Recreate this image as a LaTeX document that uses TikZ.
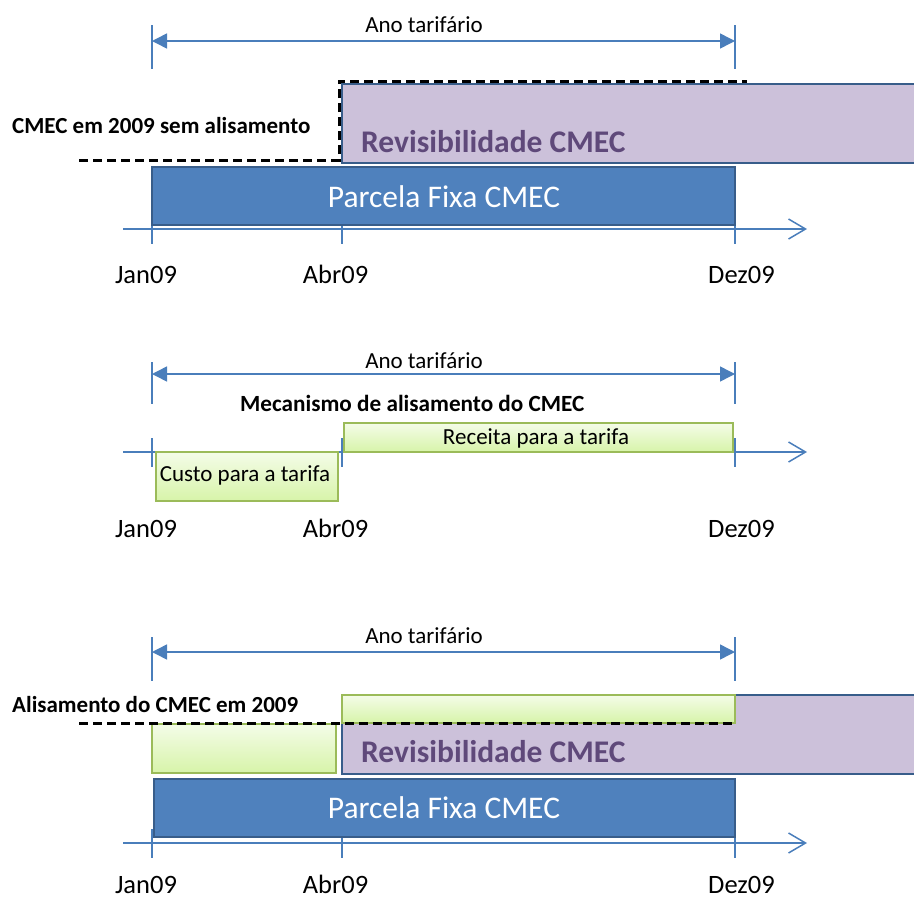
\documentclass[tikz,border=0pt]{standalone}
\usepackage{fontspec}
\setmainfont{Carlito}
\usetikzlibrary{arrows.meta}
\definecolor{axblue}{HTML}{4A7EBB}
\definecolor{pfill}{HTML}{4F81BD}
\definecolor{pborder}{HTML}{385D8A}
\definecolor{lav}{HTML}{CCC1DA}
\definecolor{lavtext}{HTML}{5F497A}
\definecolor{gborder}{HTML}{9BBB59}
\definecolor{gtop}{HTML}{F4FCE8}
\definecolor{gbot}{HTML}{D7F4A9}
\newcommand{\fsz}[1]{\fontsize{#1}{#1}\selectfont}
\tikzset{
  box/.style={inner sep=0pt, outer sep=0pt, anchor=north west},
  fixbox/.style={box, draw=pborder, line width=1.5pt, fill=pfill},
  revbox/.style={box, draw=pborder, line width=1.3pt, fill=lav},
  greenbox/.style={box, draw=gborder, line width=1.5pt, top color=gtop, bottom color=gbot},
  axisline/.style={axblue, line width=1.5pt, -{Straight Barb[length=17pt,width=20pt,line width=1.5pt]}},
  tick/.style={axblue, line width=1.5pt},
  span/.style={axblue, line width=1.5pt, {Triangle[length=15pt,width=15pt]}-{Triangle[length=15pt,width=15pt]}},
  dashline/.style={black, line width=3pt, dash pattern=on 9pt off 5pt},
  txt/.style={inner sep=0pt, anchor=base, text=black},
  txtl/.style={inner sep=0pt, anchor=base west, text=black},
  small/.style={font=\fsz{23}},
  datelbl/.style={txt, font=\fsz{26.5}},
  boldlbl/.style={txtl, font=\bfseries\fsz{23}},
  fixtxt/.style={txt, text=white, font=\fsz{31.5}},
  revtxt/.style={txtl, text=lavtext, font=\bfseries\fsz{31.5}},
}
\begin{document}
\begin{tikzpicture}[x=1pt,y=-1pt]
\useasboundingbox (0,0) rectangle (914,900);

% ================= Panel 1 =================
\coordinate (a1s) at (123,229); \coordinate (a1e) at (807,229);
\foreach \n/\x in {j/152,a/342,d/735}{
  \coordinate (t1\n a) at (\x,214); \coordinate (t1\n b) at (\x,244);
  \draw[tick] (t1\n a) -- (t1\n b);
}
\draw[axisline] (a1s) -- (a1e);
% span
\coordinate (s1l) at (152,41); \coordinate (s1r) at (735,41);
\coordinate (s1la) at (152,25); \coordinate (s1lb) at (152,69);
\coordinate (s1ra) at (735,25); \coordinate (s1rb) at (735,69);
\draw[tick] (s1la) -- (s1lb);
\draw[tick] (s1ra) -- (s1rb);
\draw[span] (s1l) -- (s1r);
\node[txt, small] (ano1) at (424,32) {Ano tarifário};
% boxes
\node[revbox, minimum width=576pt, minimum height=79pt] (rev1) at (342,84) {};
\node[fixbox, minimum width=583pt, minimum height=58pt] (fix1) at (152,167) {};
\node[revtxt] (revt1) at (361,152) {Revisibilidade CMEC};
\node[fixtxt] (fixt1) at (444,207) {Parcela Fixa CMEC};
% dashed
\coordinate (d1a) at (79,160); \coordinate (d1b) at (339,160);
\coordinate (d1c) at (339,81); \coordinate (d1d) at (747,81);
\draw[dashline] (d1a) -- (d1b) -- (d1c) -- (d1d);
\node[boldlbl] (lab1) at (12,133) {CMEC em 2009 sem alisamento};
% dates
\node[datelbl] (jan1) at (146,283) {Jan09};
\node[datelbl] (abr1) at (335.5,283) {Abr09};
\node[datelbl] (dez1) at (741.5,283) {Dez09};

% ================= Panel 2 =================
\coordinate (a2s) at (123,452); \coordinate (a2e) at (807,452);
\foreach \n/\x in {j/152,a/342,d/735}{
  \coordinate (t2\n a) at (\x,438); \coordinate (t2\n b) at (\x,467);
  \draw[tick] (t2\n a) -- (t2\n b);
}
\draw[axisline] (a2s) -- (a2e);
\coordinate (s2l) at (152,374); \coordinate (s2r) at (735,374);
\coordinate (s2la) at (152,362); \coordinate (s2lb) at (152,404);
\coordinate (s2ra) at (735,362); \coordinate (s2rb) at (735,404);
\draw[tick] (s2la) -- (s2lb);
\draw[tick] (s2ra) -- (s2rb);
\draw[span] (s2l) -- (s2r);
\node[txt, small] (ano2) at (424,368) {Ano tarifário};
\node[boldlbl, font=\bfseries\fsz{23.2}] (mec) at (240,411) {Mecanismo de alisamento do CMEC};
\node[greenbox, minimum width=182pt, minimum height=49pt] (custo) at (156,452) {};
\node[greenbox, minimum width=389pt, minimum height=29pt] (receita) at (344,423) {};
\node[txt, small] (custot) at (245,481) {Custo para a tarifa};
\node[txt, small] (receitat) at (536,444) {Receita para a tarifa};
\node[datelbl] (jan2) at (146,537) {Jan09};
\node[datelbl] (abr2) at (335.5,537) {Abr09};
\node[datelbl] (dez2) at (741.5,537) {Dez09};

% ================= Panel 3 =================
\coordinate (a3s) at (123,843); \coordinate (a3e) at (807,843);
\foreach \n/\x in {j/152,a/342,d/735}{
  \coordinate (t3\n a) at (\x,829); \coordinate (t3\n b) at (\x,858);
  \draw[tick] (t3\n a) -- (t3\n b);
}
\draw[axisline] (a3s) -- (a3e);
\coordinate (s3l) at (152,652); \coordinate (s3r) at (735,652);
\coordinate (s3la) at (152,637); \coordinate (s3lb) at (152,681);
\coordinate (s3ra) at (735,637); \coordinate (s3rb) at (735,681);
\draw[tick] (s3la) -- (s3lb);
\draw[tick] (s3ra) -- (s3rb);
\draw[span] (s3l) -- (s3r);
\node[txt, small] (ano3) at (424,643) {Ano tarifário};
\node[revbox, minimum width=576pt, minimum height=79pt] (rev3) at (342,695) {};
\node[greenbox, minimum width=393pt, minimum height=28pt] (gtop3) at (342,695) {};
\node[greenbox, minimum width=184pt, minimum height=49pt] (gleft3) at (152,724) {};
\node[fixbox, minimum width=581pt, minimum height=58pt] (fix3) at (154,779) {};
\node[revtxt] (revt3) at (361,762) {Revisibilidade CMEC};
\node[fixtxt] (fixt3) at (444,818) {Parcela Fixa CMEC};
\coordinate (d3a) at (79,723); \coordinate (d3b) at (735,723);
\draw[dashline] (d3a) -- (d3b);
\node[boldlbl] (lab3) at (12,712) {Alisamento do CMEC em 2009};
\node[datelbl] (jan3) at (146,893) {Jan09};
\node[datelbl] (abr3) at (335.5,893) {Abr09};
\node[datelbl] (dez3) at (741.5,893) {Dez09};
\end{tikzpicture}
\end{document}
